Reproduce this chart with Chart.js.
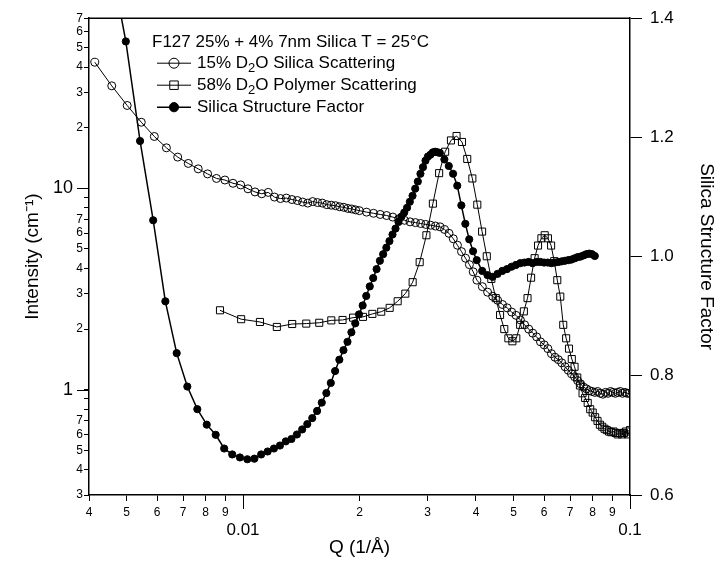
<!DOCTYPE html>
<html>
<head>
<meta charset="utf-8">
<script src="https://cdn.jsdelivr.net/npm/chart.js@4.4.1/dist/chart.umd.min.js"></script>
<style>
  html, body { margin: 0; padding: 0; background: #fff; }
  #wrap { width: 722px; height: 562px; }
</style>
</head>
<body>
<div id="wrap"><canvas id="chart" width="722" height="562"></canvas></div>
<script>
const FONT = "'Liberation Sans', Arial, Helvetica, sans-serif";

// 15% D2O - silica scattering (open circles, left axis)
const silicaQ = [
  0.00414, 0.00458, 0.00502, 0.00546, 0.0059, 0.00634, 0.00678, 0.00722, 0.00766, 0.0081,
  0.00854, 0.00898, 0.00942, 0.00986, 0.0103, 0.01074, 0.01118, 0.01162, 0.01206, 0.0125,
  0.01294, 0.01338, 0.01382, 0.01426, 0.0147, 0.01514, 0.01558, 0.01602, 0.01646, 0.0169,
  0.01734, 0.01778, 0.01822, 0.01866, 0.0191, 0.01954, 0.01998,
  0.02086, 0.02174, 0.02262, 0.0235, 0.02438, 0.02526, 0.02614, 0.02702, 0.0279, 0.02878,
  0.02966, 0.03054, 0.03142, 0.0323, 0.03318, 0.03406, 0.03494, 0.03582, 0.0367, 0.03758,
  0.03846, 0.03934, 0.04022,
  0.04154, 0.04286, 0.04418, 0.0455, 0.04682, 0.04814, 0.04946, 0.05078, 0.0521, 0.05342,
  0.05474, 0.05606, 0.05738, 0.0587, 0.06002, 0.06134, 0.06266, 0.06398, 0.0653, 0.06662,
  0.06794, 0.06926, 0.07058, 0.0719, 0.07322, 0.07454, 0.07586, 0.07718, 0.0785, 0.07982,
  0.08114, 0.08246, 0.08378, 0.0851, 0.08642, 0.08774, 0.08906, 0.09038, 0.0917, 0.09302,
  0.09434, 0.09566, 0.09698, 0.0983, 0.09962
];
const silicaI = [
  42.3, 32.3, 25.8, 21.3, 18.1, 15.9, 14.3, 13.3, 12.5, 11.8,
  11.2, 11.0, 10.6, 10.4, 9.95, 9.6, 9.4, 9.55, 9.05, 8.9,
  8.95, 8.8, 8.7, 8.55, 8.45, 8.6, 8.5, 8.45, 8.3, 8.25,
  8.2, 8.1, 8.05, 7.95, 7.9, 7.82, 7.75,
  7.62, 7.52, 7.42, 7.33, 7.2, 7.06, 6.94, 6.82, 6.76, 6.69,
  6.62, 6.56, 6.5, 6.44, 6.25, 5.98, 5.62, 5.22, 4.85, 4.5,
  4.18, 3.85, 3.5,
  3.25, 3.05, 2.91, 2.78, 2.65, 2.55, 2.43, 2.34, 2.22, 2.1,
  2.0, 1.91, 1.83, 1.73, 1.67, 1.6, 1.51, 1.45, 1.41, 1.36,
  1.3, 1.25, 1.2, 1.16, 1.11, 1.07, 1.03, 1.01, 0.99, 0.98,
  0.97, 0.98, 0.96, 0.95, 0.97, 0.96, 0.98, 0.97, 0.96, 0.97,
  0.98, 0.96, 0.97, 0.96, 0.96
];

// 58% D2O - polymer scattering (open squares, left axis)
const polymerQ = [
  0.00872, 0.00989, 0.01106, 0.01223, 0.0134, 0.01457, 0.01574, 0.01691, 0.01808, 0.01925,
  0.02042, 0.02159, 0.02276, 0.02393, 0.0251, 0.02627, 0.02744, 0.02861, 0.02978, 0.03095,
  0.03212, 0.03329, 0.03446, 0.03563, 0.0368, 0.03797, 0.03914, 0.04031, 0.04148, 0.04265,
  0.04382, 0.04499, 0.04616, 0.04733, 0.0485, 0.04967, 0.05084, 0.05201, 0.05318, 0.05435,
  0.05552, 0.05669, 0.05786, 0.05903, 0.0602, 0.06137, 0.06254, 0.06371, 0.06488, 0.06605,
  0.06722, 0.06839, 0.06956, 0.07073, 0.0719, 0.07307, 0.07424, 0.07541, 0.07658, 0.07775,
  0.07892, 0.08009, 0.08126, 0.08243, 0.0836, 0.08477, 0.08594, 0.08711, 0.08828, 0.08945,
  0.09062, 0.09179, 0.09296, 0.09413, 0.0953, 0.09647, 0.09764, 0.09881, 0.09998
];
const polymerI = [
  2.48, 2.24, 2.17, 2.05, 2.12, 2.13, 2.15, 2.21, 2.22, 2.28,
  2.30, 2.38, 2.44, 2.55, 2.75, 3.0, 3.42, 4.3, 5.85, 8.4,
  11.9, 15.2, 17.3, 18.2, 17.0, 14.0, 11.2, 8.3, 6.1, 4.6,
  3.55, 2.85, 2.35, 2.0, 1.80, 1.74, 1.80, 2.1, 2.45, 2.85,
  3.6, 4.5, 5.2, 5.65, 5.85, 5.65, 5.2, 4.35, 3.5, 2.9,
  2.1, 1.8, 1.6, 1.42, 1.3, 1.15, 1.05, 0.96, 0.91, 0.86,
  0.80, 0.77, 0.73, 0.70, 0.67, 0.655, 0.64, 0.63, 0.62, 0.615,
  0.62, 0.61, 0.60, 0.61, 0.60, 0.61, 0.62, 0.60, 0.63
];

// silica structure factor (filled circles, right axis)
const structQ = [
  0.00454, 0.00498, 0.00542, 0.00586, 0.0063, 0.00674, 0.00718, 0.00762, 0.00806, 0.0085,
  0.00894, 0.00938, 0.00982, 0.01026, 0.0107, 0.01114, 0.01158, 0.01202, 0.01246, 0.0129,
  0.01334, 0.01378, 0.01422, 0.01466, 0.0151, 0.01554, 0.01598, 0.01642, 0.01686, 0.0173,
  0.01774, 0.01818, 0.01862, 0.01906, 0.0195, 0.01994,
  0.02038, 0.02082, 0.02126, 0.0217, 0.02214, 0.02258, 0.02302, 0.02346, 0.0239, 0.02434,
  0.02478, 0.02522, 0.02566, 0.0261, 0.02654, 0.02698, 0.02742, 0.02786, 0.0283, 0.02874,
  0.02918, 0.02962, 0.03006, 0.0305, 0.03094, 0.03138, 0.03182, 0.03226,
  0.03314, 0.03402, 0.0349, 0.03578, 0.03666, 0.03754, 0.03842, 0.0393, 0.04018,
  0.0415, 0.04282, 0.04414, 0.04546, 0.04678, 0.0481, 0.04942, 0.05074, 0.05206, 0.05338,
  0.0547, 0.05602, 0.05734, 0.05866, 0.05998, 0.0613, 0.06262, 0.06394, 0.06526, 0.06658,
  0.0679, 0.06922, 0.07054, 0.07186, 0.07318, 0.0745, 0.07582, 0.07714, 0.07846, 0.07978,
  0.0811
];
const structS = [
  1.50, 1.361, 1.194, 1.061, 0.925, 0.838, 0.782, 0.744, 0.718, 0.701,
  0.678, 0.668, 0.663, 0.660, 0.661, 0.668, 0.673, 0.678, 0.683, 0.690,
  0.694, 0.7015, 0.710, 0.719, 0.729, 0.741, 0.755, 0.771, 0.788, 0.808,
  0.827, 0.843, 0.857, 0.873, 0.888, 0.903,
  0.918, 0.934, 0.950, 0.964, 0.979, 0.993, 1.004, 1.015, 1.026, 1.037,
  1.047, 1.058, 1.067, 1.074, 1.082, 1.092, 1.102, 1.114, 1.126, 1.139,
  1.150, 1.161, 1.168, 1.171, 1.175, 1.176, 1.175, 1.174,
  1.163, 1.152, 1.139, 1.119, 1.086, 1.055, 1.029, 1.009, 0.994,
  0.976, 0.969, 0.966, 0.971, 0.976, 0.979, 0.983, 0.986, 0.989, 0.990,
  0.991, 0.989, 0.991, 0.991, 0.990, 0.990, 0.989, 0.990, 0.991, 0.992,
  0.993, 0.994, 0.995, 0.997, 0.999, 1.000, 1.002, 1.004, 1.005, 1.004,
  1.001
];

// axis ticks
const xTicks = [0.004, 0.005, 0.006, 0.007, 0.008, 0.009, 0.01, 0.02, 0.03, 0.04, 0.05, 0.06, 0.07, 0.08, 0.09, 0.1];
const yTicks = [0.3, 0.4, 0.5, 0.6, 0.7, 0.8, 0.9, 1, 2, 3, 4, 5, 6, 7, 8, 9, 10, 20, 30, 40, 50, 60, 70];
const y2Ticks = [0.6, 0.8, 1.0, 1.2, 1.4];

const legendTitle = 'F127 25% + 4% 7nm Silica T = 25°C';
const seriesLabels = ['15% D_2O Silica Scattering', '58% D_2O Polymer Scattering', 'Silica Structure Factor'];

const isDecade = v => Math.abs(Math.log10(v) - Math.round(Math.log10(v))) < 1e-6;
const leadDigit = v => Math.round(v / Math.pow(10, Math.floor(Math.log10(v) + 1e-9)));
const minorFont = { family: FONT, size: 12 };
const majorFont = { family: FONT, size: 17, lineHeight: 1.0 };

const toPoints = (xs, ys) => xs.map((x, i) => ({ x, y: ys[i] }));

const whiteBg = {
    id: 'whiteBg',
    beforeDraw(chart) {
        const { ctx, width, height } = chart;
        ctx.save();
        ctx.fillStyle = '#fff';
        ctx.fillRect(0, 0, width, height);
        ctx.restore();
    }
};

// top frame line + longer ticks at the decades
const frame = {
    id: 'frame',
    afterDraw(chart) {
        const { ctx, chartArea, scales } = chart;
        ctx.save();
        ctx.strokeStyle = '#000';
        ctx.lineWidth = 1.5;
        ctx.beginPath();
        ctx.moveTo(chartArea.left, chartArea.top);
        ctx.lineTo(chartArea.right, chartArea.top);
        ctx.stroke();
        ctx.lineWidth = 1;
        ctx.beginPath();
        xTicks.filter(isDecade).forEach(v => {
            const px = Math.round(scales.x.getPixelForValue(v)) + 0.5;
            ctx.moveTo(px, chartArea.bottom);
            ctx.lineTo(px, chartArea.bottom + 14);
        });
        yTicks.filter(isDecade).forEach(v => {
            const py = Math.round(scales.y.getPixelForValue(v)) + 0.5;
            ctx.moveTo(chartArea.left, py);
            ctx.lineTo(chartArea.left - 12, py);
        });
        ctx.stroke();
        ctx.restore();
    }
};

function drawRich(ctx, text, x, y) {
    let cx = x;
    text.split('_').forEach((part, i) => {
        if (i > 0) {
            const sub = part[0];
            ctx.font = `13px ${FONT}`;
            ctx.fillText(sub, cx, y + 5);
            cx += ctx.measureText(sub).width;
            part = part.slice(1);
        }
        ctx.font = `17px ${FONT}`;
        ctx.fillText(part, cx, y);
        cx += ctx.measureText(part).width;
    });
}

function drawMarker(ctx, style, filled, r, x, y) {
    ctx.beginPath();
    if (style === 'rect') {
        const s = r * Math.SQRT1_2;
        ctx.rect(x - s, y - s, 2 * s, 2 * s);
    } else {
        ctx.arc(x, y, r, 0, Math.PI * 2);
    }
    if (filled) ctx.fill();
    ctx.stroke();
}

const legendBox = {
    id: 'legendBox',
    afterDraw(chart) {
        const { ctx, chartArea } = chart;
        const x0 = chartArea.left + 63;
        const y0 = chartArea.top + 24;
        ctx.save();
        ctx.fillStyle = '#000';
        ctx.strokeStyle = '#000';
        ctx.textBaseline = 'middle';
        ctx.textAlign = 'left';
        ctx.font = `17px ${FONT}`;
        ctx.fillText(legendTitle, x0, y0);
        chart.data.datasets.forEach((ds, i) => {
            const y = y0 + 21 + i * 22;
            ctx.lineWidth = ds.borderWidth;
            ctx.beginPath();
            ctx.moveTo(x0 + 5, y);
            ctx.lineTo(x0 + 39, y);
            ctx.stroke();
            ctx.lineWidth = 1;
            drawMarker(ctx, ds.pointStyle, ds.pointBackgroundColor === '#000', ds.pointRadius + 1, x0 + 22, y);
            ctx.fillStyle = '#000';
            drawRich(ctx, seriesLabels[i], x0 + 45, y);
        });
        ctx.restore();
    }
};

const tickGrid = len => ({ display: true, drawOnChartArea: false, drawTicks: true, tickLength: len, tickColor: '#000', tickWidth: 1 });
const axisBorder = { display: true, color: '#000', width: 1.5 };

new Chart(document.getElementById('chart'), {
    type: 'scatter',
    data: {
        datasets: [
            {
                label: seriesLabels[0],
                data: toPoints(silicaQ, silicaI),
                yAxisID: 'y',
                showLine: true,
                borderColor: '#000',
                borderWidth: 1,
                pointStyle: 'circle',
                pointRadius: 4,
                pointBackgroundColor: 'rgba(0,0,0,0)',
                pointBorderColor: '#000',
                pointBorderWidth: 1
            },
            {
                label: seriesLabels[1],
                data: toPoints(polymerQ, polymerI),
                yAxisID: 'y',
                showLine: true,
                borderColor: '#000',
                borderWidth: 1,
                pointStyle: 'rect',
                pointRadius: 5,
                pointBackgroundColor: 'rgba(0,0,0,0)',
                pointBorderColor: '#000',
                pointBorderWidth: 1
            },
            {
                label: seriesLabels[2],
                data: toPoints(structQ, structS),
                yAxisID: 'y2',
                showLine: true,
                borderColor: '#000',
                borderWidth: 1.5,
                pointStyle: 'circle',
                pointRadius: 3.6,
                pointBackgroundColor: '#000',
                pointBorderColor: '#000',
                pointBorderWidth: 1
            }
        ]
    },
    options: {
        responsive: false,
        animation: false,
        devicePixelRatio: 1,
        layout: { padding: { top: 18, left: 0, right: 0, bottom: 0 } },
        plugins: {
            legend: { display: false },
            tooltip: { enabled: false }
        },
        scales: {
            x: {
                type: 'logarithmic',
                position: 'bottom',
                min: 0.004,
                max: 0.1,
                afterBuildTicks: (scale) => { scale.ticks = xTicks.map(v => ({ value: v })); },
                afterFit: (scale) => { scale.height = 67; },
                grid: tickGrid(6),
                border: axisBorder,
                ticks: {
                    autoSkip: false,
                    maxRotation: 0,
                    minRotation: 0,
                    padding: 4,
                    color: '#000',
                    font: (c) => (c.tick && isDecade(c.tick.value)) ? majorFont : minorFont,
                    callback: (v) => isDecade(v) ? ['', String(v)] : String(leadDigit(v))
                },
                title: {
                    display: true,
                    text: 'Q (1/Å)',
                    color: '#000',
                    font: { family: FONT, size: 19 },
                    padding: { top: 0, bottom: 3 }
                }
            },
            y: {
                type: 'logarithmic',
                position: 'left',
                min: 0.3,
                max: 70,
                afterBuildTicks: (scale) => { scale.ticks = yTicks.map(v => ({ value: v })); },
                afterFit: (scale) => { scale.width = 89; },
                grid: tickGrid(5),
                border: axisBorder,
                ticks: {
                    autoSkip: false,
                    padding: 1,
                    color: '#000',
                    font: (c) => (c.tick && isDecade(c.tick.value)) ? { family: FONT, size: 18 } : minorFont,
                    callback: (v) => {
                        // trailing spaces keep the big labels clear of the long decade tick
                        if (isDecade(v)) return String(v) + '  ';
                        const d = leadDigit(v);
                        return d >= 8 ? '' : String(d);
                    }
                },
                title: {
                    display: true,
                    text: 'Intensity (cm⁻¹)',
                    color: '#000',
                    font: { family: FONT, size: 19 },
                    padding: { top: 21, bottom: 0 }
                }
            },
            y2: {
                type: 'linear',
                position: 'right',
                min: 0.6,
                max: 1.4,
                afterBuildTicks: (scale) => { scale.ticks = y2Ticks.map(v => ({ value: v })); },
                afterFit: (scale) => { scale.width = 92; },
                grid: tickGrid(12),
                border: axisBorder,
                ticks: {
                    autoSkip: false,
                    padding: 8,
                    color: '#000',
                    font: { family: FONT, size: 17 },
                    callback: (v) => Number(v).toFixed(1)
                },
                title: {
                    display: true,
                    text: 'Silica Structure Factor',
                    color: '#000',
                    font: { family: FONT, size: 19 },
                    padding: { top: 4, bottom: 0 }
                }
            }
        }
    },
    plugins: [whiteBg, frame, legendBox]
});
</script>
</body>
</html>
